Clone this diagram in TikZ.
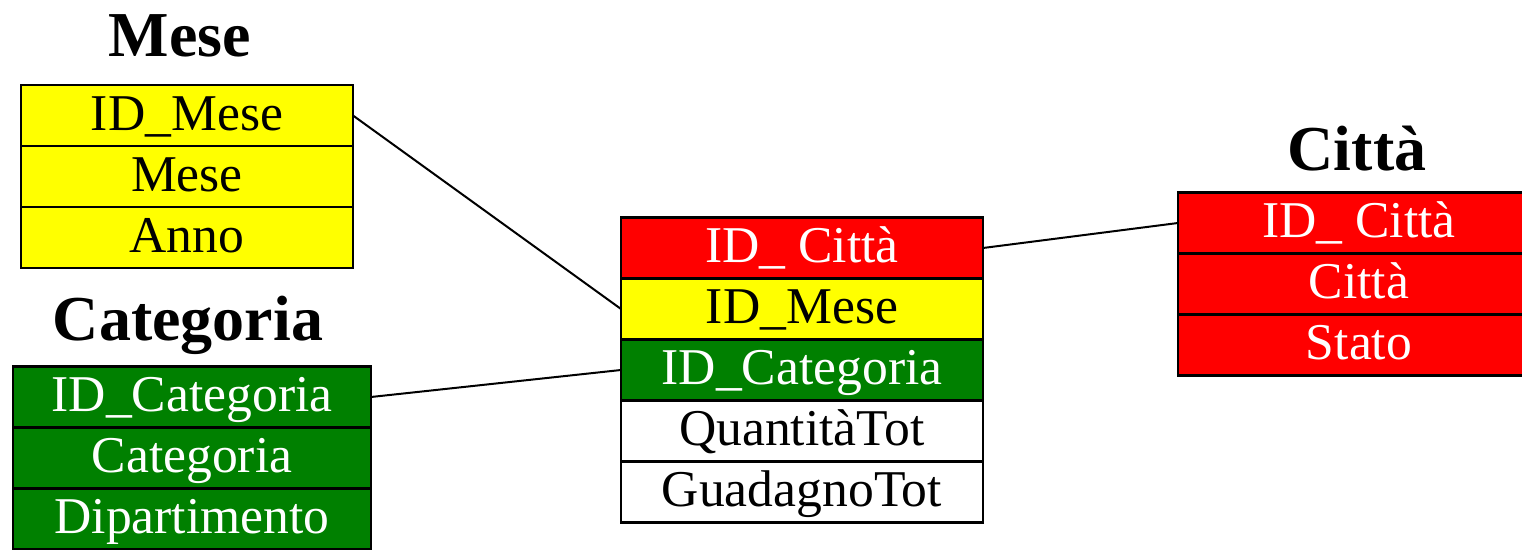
\documentclass[tikz,border=0pt]{standalone}
\usepackage{fontspec}
\setmainfont{Liberation Serif}
\usepackage{tikz}
\usetikzlibrary{positioning}
\definecolor{meseyellow}{RGB}{255,255,0}
\definecolor{catgreen}{RGB}{0,128,0}
\definecolor{cittared}{RGB}{255,0,0}
\tikzset{
  cell/.style={draw=black, line width=1.2pt, inner sep=0pt, outer sep=0pt,
    minimum height=30.5pt, text height=19pt, text depth=4pt,
    font=\fontsize{25.8}{28}\selectfont},
  mesecell/.style={cell, fill=meseyellow, text=black, minimum width=166pt},
  catcell/.style={cell, fill=catgreen, text=white, minimum width=179pt},
  cittacell/.style={cell, fill=cittared, text=white, minimum width=181pt},
  factcell/.style={cell, minimum width=181pt},
  tabtitle/.style={anchor=base, font=\fontsize{32}{36}\selectfont\bfseries},
  link/.style={draw=black, line width=1pt}
}
\begin{document}
\begin{tikzpicture}[x=0.5pt,y=-0.5pt, node distance=0pt]
\useasboundingbox (0,0) rectangle (1522,550);
\clip (0,0) rectangle (1522,550);

\node[tabtitle] (mese) at (180,57) {Mese};
\node[mesecell] (mese-id) at (187,115.5) {ID\_Mese};
\node[mesecell, below=of mese-id] (mese-mese) {Mese};
\node[mesecell, below=of mese-mese] (mese-anno) {Anno};

\node[tabtitle] (cat) at (188,341) {Categoria};
\node[catcell] (cat-id) at (192,397) {ID\_Categoria};
\node[catcell, below=of cat-id] (cat-cat) {Categoria};
\node[catcell, below=of cat-cat] (cat-dip) {Dipartimento};

\node[cittacell] (fact-citta) at (802,248) {ID\_ Città};
\node[mesecell, minimum width=181pt, below=of fact-citta] (fact-mese) {ID\_Mese};
\node[catcell, minimum width=181pt, below=of fact-mese] (fact-cat) {ID\_Categoria};
\node[factcell, below=of fact-cat] (fact-qta) {QuantitàTot};
\node[factcell, below=of fact-qta] (fact-gdg) {GuadagnoTot};

\node[tabtitle] (citta) at (1357,171) {Città};
\node[cittacell] (citta-id) at (1359,223) {ID\_ Città};
\node[cittacell, below=of citta-id] (citta-citta) {Città};
\node[cittacell, below=of citta-citta] (citta-stato) {Stato};

\draw[link] (mese-id.east) -- (fact-mese.west);
\draw[link] (cat-id.east) -- (fact-cat.west);
\draw[link] (fact-citta.east) -- (citta-id.west);
\end{tikzpicture}
\end{document}
